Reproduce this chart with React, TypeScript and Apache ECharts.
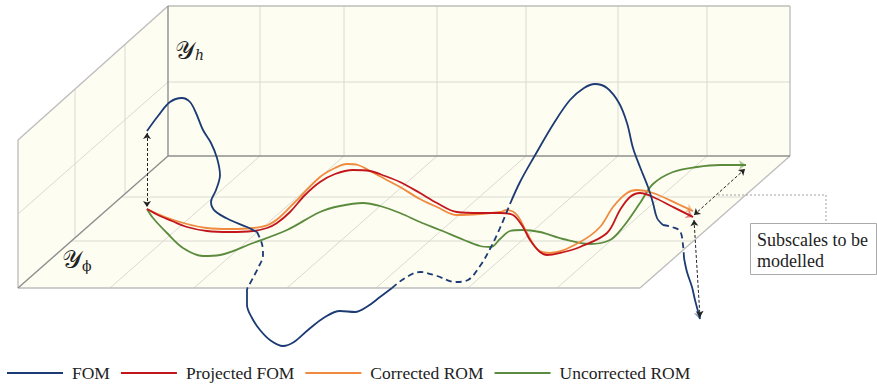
import React, { useEffect, useRef } from "react";
import * as echarts from "echarts";

const WIDTH = 877;
const HEIGHT = 386;

// ---- Box frame (scene units, y grows downwards) ----
const backWall = [[168, 6], [790, 6], [790, 156], [168, 156]];
const leftWall = [[168, 6], [168, 156], [18, 288], [18, 140]];
const floorFace = [[168, 156], [790, 156], [640, 288], [18, 288]];
const faces = [backWall, leftWall, floorFace];

const backColumns = [260, 344, 437, 526, 618, 707];
const gridSegments = [
  ...backColumns.map((x) => [[x, 6], [x, 156]]),
  [[168, 82], [790, 82]],
  [[168, 82], [18, 214]],
  [[125, 44], [125, 194]],
  [[75, 89], [75, 238]],
  ...backColumns.map((x) => [[x, 156], [x - 150, 288]]),
  [[121, 197], [743, 197]],
  [[71, 241], [693, 241]],
];
const lightEdges = [
  [[168, 6], [790, 6]],
  [[790, 6], [790, 156]],
  [[168, 6], [18, 140]],
  [[18, 140], [18, 288]],
  [[18, 288], [640, 288]],
  [[640, 288], [790, 156]],
];
const darkEdges = [
  [[168, 6], [168, 156]],
  [[168, 156], [790, 156]],
  [[168, 156], [18, 288]],
];

// ---- Trajectories ----
// FOM: solid where it is visible, dashed where it passes behind the floor
const fomSolid1 = [
  [147, 131], [158, 116], [170, 102], [182, 98], [190, 102], [196, 113], [203, 130],
  [211, 143], [217, 158], [220, 175], [216, 190], [211, 202], [215, 211], [230, 220],
  [247, 227], [257, 232],
];
const fomDashed1 = [[257, 232], [262, 244], [263, 255], [258, 268], [247, 289]];
const fomSolid2 = [
  [247, 289], [247, 305], [252, 318], [260, 330], [270, 340], [283, 346], [294, 342],
  [308, 330], [325, 317], [340, 311], [355, 312], [368, 306], [380, 297], [392, 288],
];
const fomDashed2 = [
  [392, 288], [405, 278], [420, 272], [437, 276], [455, 282], [468, 280], [480, 266],
  [490, 249], [500, 228], [510, 204],
];
const fomSolid3 = [
  [510, 204], [520, 182], [534, 157], [554, 123], [570, 100], [584, 88], [595, 84],
  [607, 88], [619, 103], [627, 123], [633, 148], [640, 167], [648, 187], [653, 203],
  [657, 218], [663, 225],
];
const fomDashed3 = [[663, 225], [672, 227], [680, 231], [683, 245], [684, 258]];
const fomSolid4 = [[684, 258], [687, 272], [692, 287], [695, 300], [699, 315], [700, 319]];

const projectedFom = [
  [147, 209], [160, 216], [172, 221], [187, 227], [207, 231], [230, 232], [253, 231],
  [267, 228], [277, 223], [290, 212], [305, 195], [320, 182], [335, 174], [353, 170],
  [370, 171], [385, 176], [400, 182], [420, 193], [437, 203], [457, 212], [480, 213],
  [500, 213], [513, 215], [523, 227], [530, 240], [540, 252], [547, 255], [564, 252],
  [580, 247], [607, 233], [620, 210], [630, 197], [640, 193], [653, 197], [673, 207],
  [693, 217],
];
const correctedRom = [
  [147, 209], [165, 217], [187, 224], [207, 228], [230, 229], [253, 228], [268, 225],
  [280, 217], [295, 202], [320, 177], [335, 168], [347, 164], [358, 165], [370, 171],
  [385, 179], [400, 187], [420, 199], [437, 207], [457, 215], [480, 214], [500, 212],
  [507, 210], [517, 215], [527, 233], [538, 250], [550, 253], [580, 242], [600, 227],
  [613, 207], [627, 193], [637, 190], [653, 193], [680, 205], [693, 211],
];
const uncorrectedRom = [
  [147, 209], [153, 218], [167, 233], [183, 248], [203, 256], [220, 255], [253, 243],
  [287, 230], [320, 212], [340, 206], [363, 203], [380, 206], [400, 213], [420, 222],
  [440, 230], [464, 240], [480, 246], [491, 247], [500, 239], [510, 231], [522, 230],
  [540, 232], [563, 239], [590, 244], [610, 240], [623, 227], [640, 203], [653, 184],
  [673, 172], [697, 167], [720, 165], [746, 165],
];

// Guides between the resolved and modelled scales
const guideArrows = [
  [[147, 133], [147, 207]],
  [[694, 215], [745, 169]],
  [[694, 220], [700, 317]],
];
const calloutPath = [[718, 195], [826, 195], [826, 223]];

const legendNames = ["FOM", "Projected FOM", "Corrected ROM", "Uncorrected ROM"];
const COLORS = {
  FOM: "#1c3a73",
  "Projected FOM": "#c3161c",
  "Corrected ROM": "#ef8a3e",
  "Uncorrected ROM": "#5b8b3c",
};

const SERIF = "Liberation Serif";
const MATH = "DejaVu Serif";

function curve(name: string, data: number[][], dashed = false, z = 5): any {
  const color = (COLORS as any)[name];
  return {
    type: "line",
    name,
    data,
    smooth: 0.35,
    showSymbol: false,
    symbol: "none",
    z,
    itemStyle: { color },
    lineStyle: { color, width: 1.8, type: dashed ? [6, 4] : "solid" },
    silent: true,
  };
}

function arrowTip(name: string, data: number[][], z = 6): any {
  const color = (COLORS as any)[name];
  const n = data.length;
  return {
    type: "lines",
    name: name + " tip",
    coordinateSystem: "cartesian2d",
    z,
    symbol: ["none", "arrow"],
    symbolSize: 7,
    lineStyle: { color, width: 1.8 },
    data: [{ coords: [data[n - 2], data[n - 1]] }],
    silent: true,
  };
}

function segments(name: string, segs: number[][][], color: string, width: number, z: number, type: any = "solid"): any {
  return {
    type: "lines",
    name,
    coordinateSystem: "cartesian2d",
    polyline: true,
    z,
    symbol: "none",
    lineStyle: { color, width, type, opacity: 1 },
    data: segs.map((coords) => ({ coords })),
    silent: true,
  };
}

export default function App() {
  const ref = useRef<HTMLDivElement>(null);

  useEffect(() => {
    if (!ref.current) return;
    const chart = echarts.init(ref.current, null, { renderer: "svg" });
    const option: any = {
      animation: false,
      backgroundColor: "#ffffff",
      grid: { left: 0, right: 0, top: 0, bottom: 0 },
      xAxis: { type: "value", min: 0, max: WIDTH, show: false },
      yAxis: { type: "value", min: 0, max: HEIGHT, inverse: true, show: false },
      legend: {
        data: legendNames,
        left: 2,
        top: 359,
        icon: "rect",
        itemWidth: 56,
        itemHeight: 2,
        itemGap: 11,
        selectedMode: false,
        textStyle: { fontFamily: SERIF, fontSize: 17.5, color: "#222", padding: [0, 0, 0, 4] },
      },
      graphic: [
        {
          type: "text",
          left: 175,
          top: 38,
          z: 20,
          style: {
            text: "{y|𝒴}{s|h}",
            rich: {
              y: { fontFamily: MATH, fontSize: 25, fill: "#222" },
              s: { fontFamily: MATH, fontSize: 14, fill: "#222", fontStyle: "italic", padding: [9, 0, 0, 0] },
            },
          },
        },
        {
          type: "text",
          left: 62,
          top: 247,
          z: 20,
          style: {
            text: "{y|𝒴}{s|ϕ}",
            rich: {
              y: { fontFamily: MATH, fontSize: 25, fill: "#222" },
              s: { fontFamily: MATH, fontSize: 14, fill: "#222", padding: [13, 0, 0, 0] },
            },
          },
        },
        {
          type: "rect",
          shape: { x: 750.5, y: 223.5, width: 126, height: 51 },
          style: { fill: "#ffffff", stroke: "#aaaaaa", lineWidth: 1 },
          z: 20,
        },
        {
          type: "text",
          x: 757,
          y: 229,
          z: 21,
          style: {
            text: "Subscales to be\nmodelled",
            fontFamily: SERIF,
            fontSize: 18,
            lineHeight: 21,
            fill: "#222",
          },
        },
      ],
      series: [
        {
          type: "custom",
          name: "faces",
          z: 0,
          silent: true,
          data: faces.map((f, i) => [f[0][0], f[0][1], i]),
          renderItem: (params: any, api: any) => {
            const face = faces[params.dataIndex];
            return {
              type: "polygon",
              shape: { points: face.map((p) => api.coord(p)) },
              style: { fill: "#fdfdf2", stroke: "none" },
            };
          },
        },
        segments("grid", gridSegments, "#dadad2", 1, 1),
        segments("edges-light", lightEdges, "#bcbcbc", 1.3, 2),
        segments("edges-dark", darkEdges, "#8e8e8e", 1.4, 2),
        segments("callout", [calloutPath], "#a0a0a0", 1, 3, [2, 2]),
        {
          ...segments("guides", guideArrows, "#222222", 1, 8, [3, 2]),
          polyline: false,
          symbol: ["arrow", "arrow"],
          symbolSize: 6,
        },
        curve("Uncorrected ROM", uncorrectedRom, false, 4),
        arrowTip("Uncorrected ROM", uncorrectedRom, 4),
        curve("Corrected ROM", correctedRom, false, 5),
        arrowTip("Corrected ROM", correctedRom, 5),
        curve("Projected FOM", projectedFom, false, 6),
        arrowTip("Projected FOM", projectedFom, 6),
        curve("FOM", fomSolid1, false, 7),
        curve("FOM", fomDashed1, true, 7),
        curve("FOM", fomSolid2, false, 7),
        curve("FOM", fomDashed2, true, 7),
        curve("FOM", fomSolid3, false, 7),
        curve("FOM", fomDashed3, true, 7),
        curve("FOM", fomSolid4, false, 7),
        arrowTip("FOM", fomSolid4, 7),
      ],
    };
    chart.setOption(option);
    return () => chart.dispose();
  }, []);

  return (
    <div
      ref={ref}
      style={{ position: "fixed", left: 0, top: 0, width: WIDTH, height: HEIGHT }}
    />
  );
}
